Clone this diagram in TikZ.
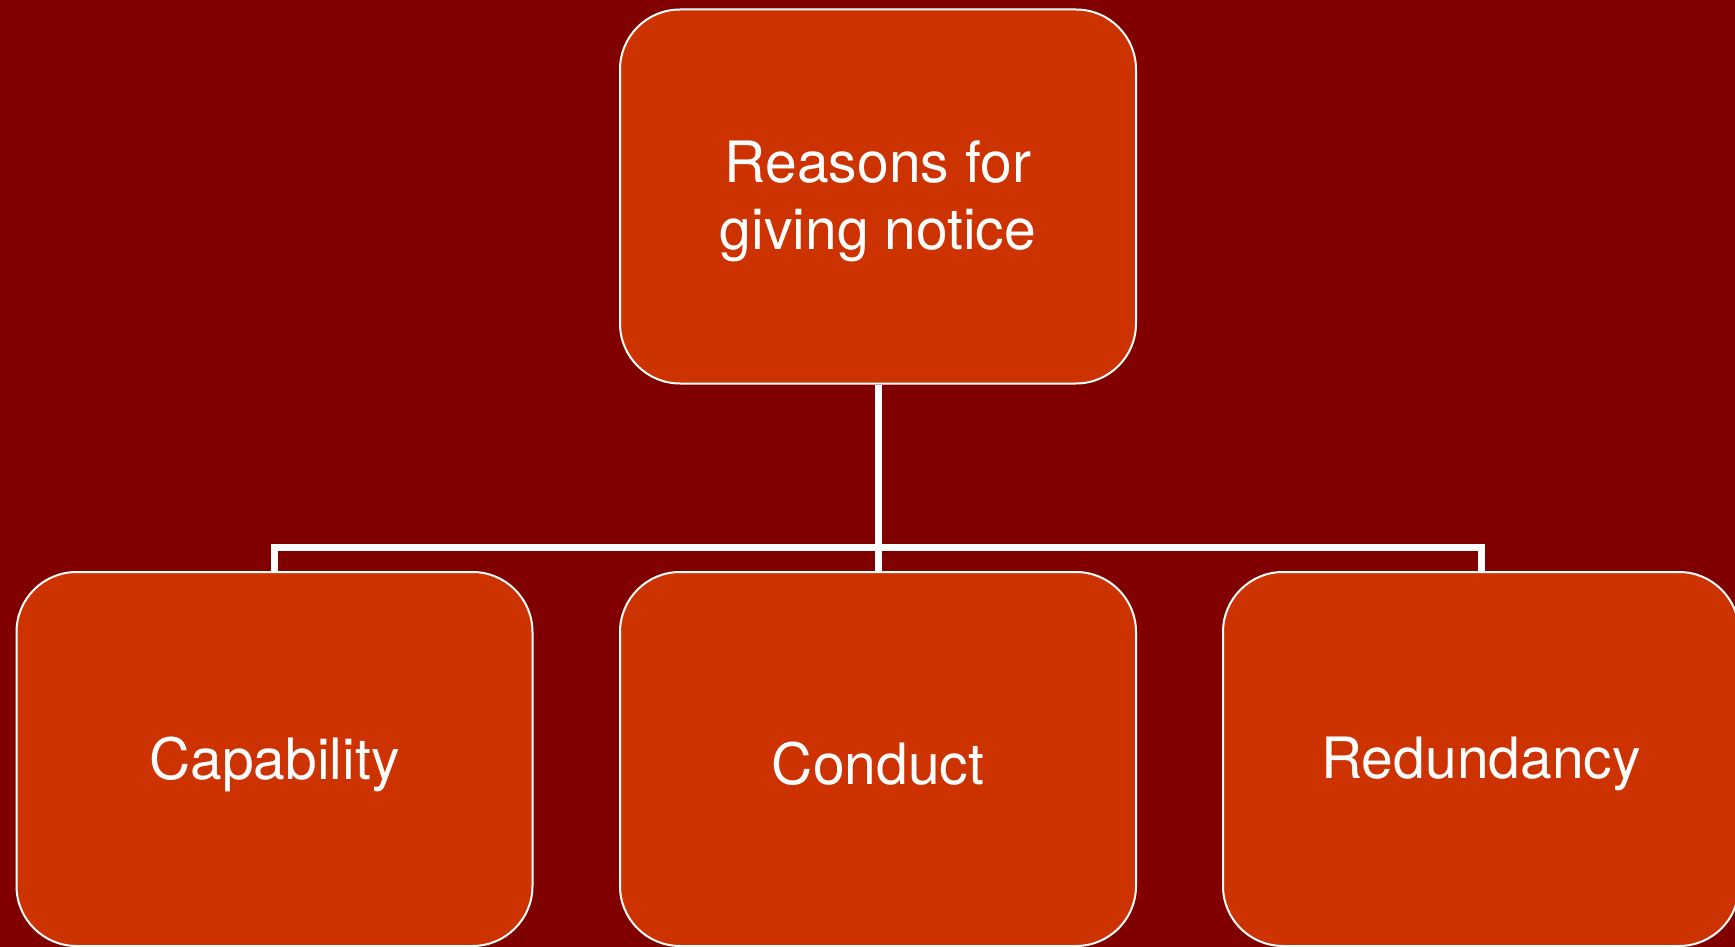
\documentclass[tikz,border=0pt]{standalone}
\usepackage{fontspec}
\setmainfont{TeX Gyre Heros}
\definecolor{bgred}{HTML}{800000}
\definecolor{boxred}{HTML}{CC3300}
\tikzset{
  box/.style={draw=white, line width=2pt, fill=boxred, rounded corners=60pt,
    minimum width=516pt, minimum height=374pt, inner sep=0pt},
  lbl/.style={align=center, text=white, yshift=-5pt, inner sep=0pt,
    font=\fontsize{57}{67.5}\selectfont},
  conn/.style={draw=white, line width=7pt}
}
\begin{document}
\begin{tikzpicture}[x=1pt,y=-1pt]
  \fill[bgred] (0,0) rectangle (1735,947);
  \useasboundingbox (0,0) rectangle (1735,947);
  \coordinate (bar) at (878,547);
  \node[box, label={[lbl]center:Reasons for\\giving notice}] (top) at (878,196.5) {};
  \node[box, label={[lbl]center:Capability}] (left) at (274.5,759) {};
  \node[box, label={[lbl]center:Conduct}] (mid) at (878,759) {};
  \node[box, label={[lbl]center:Redundancy}] (right) at (1481,759) {};
  \draw[conn] (top.south) -- (mid.north);
  \draw[conn] (left.north) |- (bar) -| (right.north);
\end{tikzpicture}
\end{document}
